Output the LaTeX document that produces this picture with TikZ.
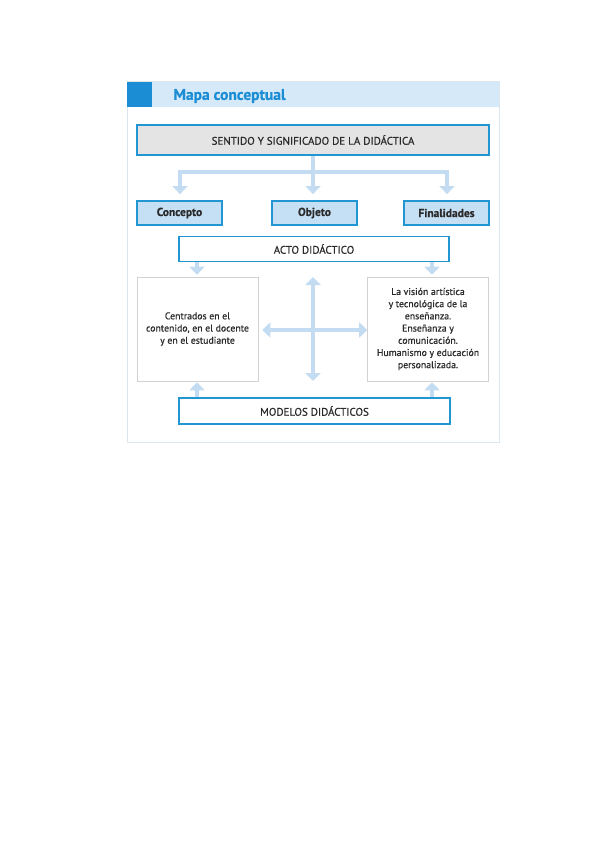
\documentclass[tikz,border=0pt]{standalone}
\usepackage{fontspec}
\setmainfont{PT Sans}[FakeBold=0.5]
\usetikzlibrary{arrows.meta,calc}
\definecolor{bluebd}{HTML}{2196D3}
\definecolor{bluesq}{HTML}{1A8DD4}
\definecolor{hdrfill}{HTML}{D5E9F8}
\definecolor{boxfill}{HTML}{C5E0F5}
\definecolor{grayfill}{HTML}{E4E4E4}
\definecolor{arrowc}{HTML}{C4DCF1}
\definecolor{panelbd}{HTML}{DCE6EE}
\definecolor{sidebd}{HTML}{D2D2D2}
\definecolor{txt}{HTML}{2A2A2A}
\begin{document}
\begin{tikzpicture}[x=1pt,y=-1pt,
  mainbox/.style={draw=bluebd,line width=1.8pt,minimum height=24pt,inner sep=0pt,text=txt,font=\fontsize{11}{13}\selectfont},
  topic/.style={mainbox,fill=boxfill,minimum width=85pt,font=\fontsize{11.5}{13}\selectfont\bfseries},
  sidebox/.style={draw=sidebd,line width=0.6pt,fill=white,minimum width=121pt,minimum height=104pt,inner sep=0pt,text=txt,align=center,font=\fontsize{9.8}{12.2}\selectfont},
  conn/.style={draw=arrowc,line width=4.5pt},
  arr/.style={conn,-{Triangle[width=15pt,length=8pt]}},
  darr/.style={conn,{Triangle[width=15pt,length=8pt]}-{Triangle[width=15pt,length=8pt]}}
]
\useasboundingbox (0,0) rectangle (599,848);
\fill[white] (0,0) rectangle (599,848);
% panel
\draw[panelbd,line width=1pt,fill=white] (127,82) rectangle (499,442);
\fill[hdrfill] (127,82) rectangle (499,107);
\fill[bluesq] (127,82) rectangle (152,107);
\node[anchor=west,text=bluesq,font=\fontsize{15.5}{17}\selectfont\bfseries] (title) at (170,96) {Mapa conceptual};
% top box
\node[mainbox,fill=grayfill,minimum width=352pt,minimum height=30pt] (sent) at (313,140) {SENTIDO Y SIGNIFICADO DE LA DIDÁCTICA};
\node[topic] (conc) at (179.5,213) {Concepto};
\node[topic] (obj) at (314.5,213) {Objeto};
\node[topic] (fin) at (446.5,213) {Finalidades};
\node[mainbox,fill=white,minimum width=270pt,minimum height=25pt] (acto) at (314,249) {ACTO DIDÁCTICO};
\node[sidebox] (lbox) at (197.5,329) {Centrados en el\\contenido, en el docente\\y en el estudiante};
\node[sidebox] (rbox) at (428,329) {La visión artística\\y tecnológica de la\\enseñanza.\\Enseñanza y\\comunicación.\\Humanismo y educación\\personalizada.};
\node[mainbox,fill=white,minimum width=271pt,minimum height=26pt] (mod) at (314.5,411) {MODELOS DIDÁCTICOS};
% connectors top
\coordinate (hj) at (313,172);
\coordinate (hl) at (180,172);
\coordinate (hr) at (447,172);
\draw[conn] (sent.south -| hj) -- (hj);
\draw[conn,line cap=butt] ($(hl)+(-2.25,0)$) -- ($(hr)+(2.25,0)$);
\draw[arr] (hl) -- ($(conc.north -| hl)+(0,-6)$);
\draw[arr] (hj) -- ($(obj.north -| hj)+(0,-6)$);
\draw[arr] (hr) -- ($(fin.north -| hr)+(0,-6)$);
% acto to side boxes
\coordinate (xl) at (197,0);
\coordinate (xr) at (432,0);
\draw[arr] (acto.south -| xl) -- ($(lbox.north -| xl)+(0,-2)$);
\draw[arr] (acto.south -| xr) -- ($(rbox.north -| xr)+(0,-2)$);
% modelos to side boxes
\draw[arr] (mod.north -| xl) -- ($(lbox.south -| xl)+(0,1)$);
\draw[arr] (mod.north -| xr) -- ($(rbox.south -| xr)+(0,1)$);
% cross
\coordinate (vt) at (313,277);
\coordinate (vb) at (313,381);
\draw[darr] (vt) -- (vb);
\draw[darr] ($(lbox.east)+(4,1)$) -- ($(rbox.west)+(0,1)$);
\end{tikzpicture}
\end{document}
